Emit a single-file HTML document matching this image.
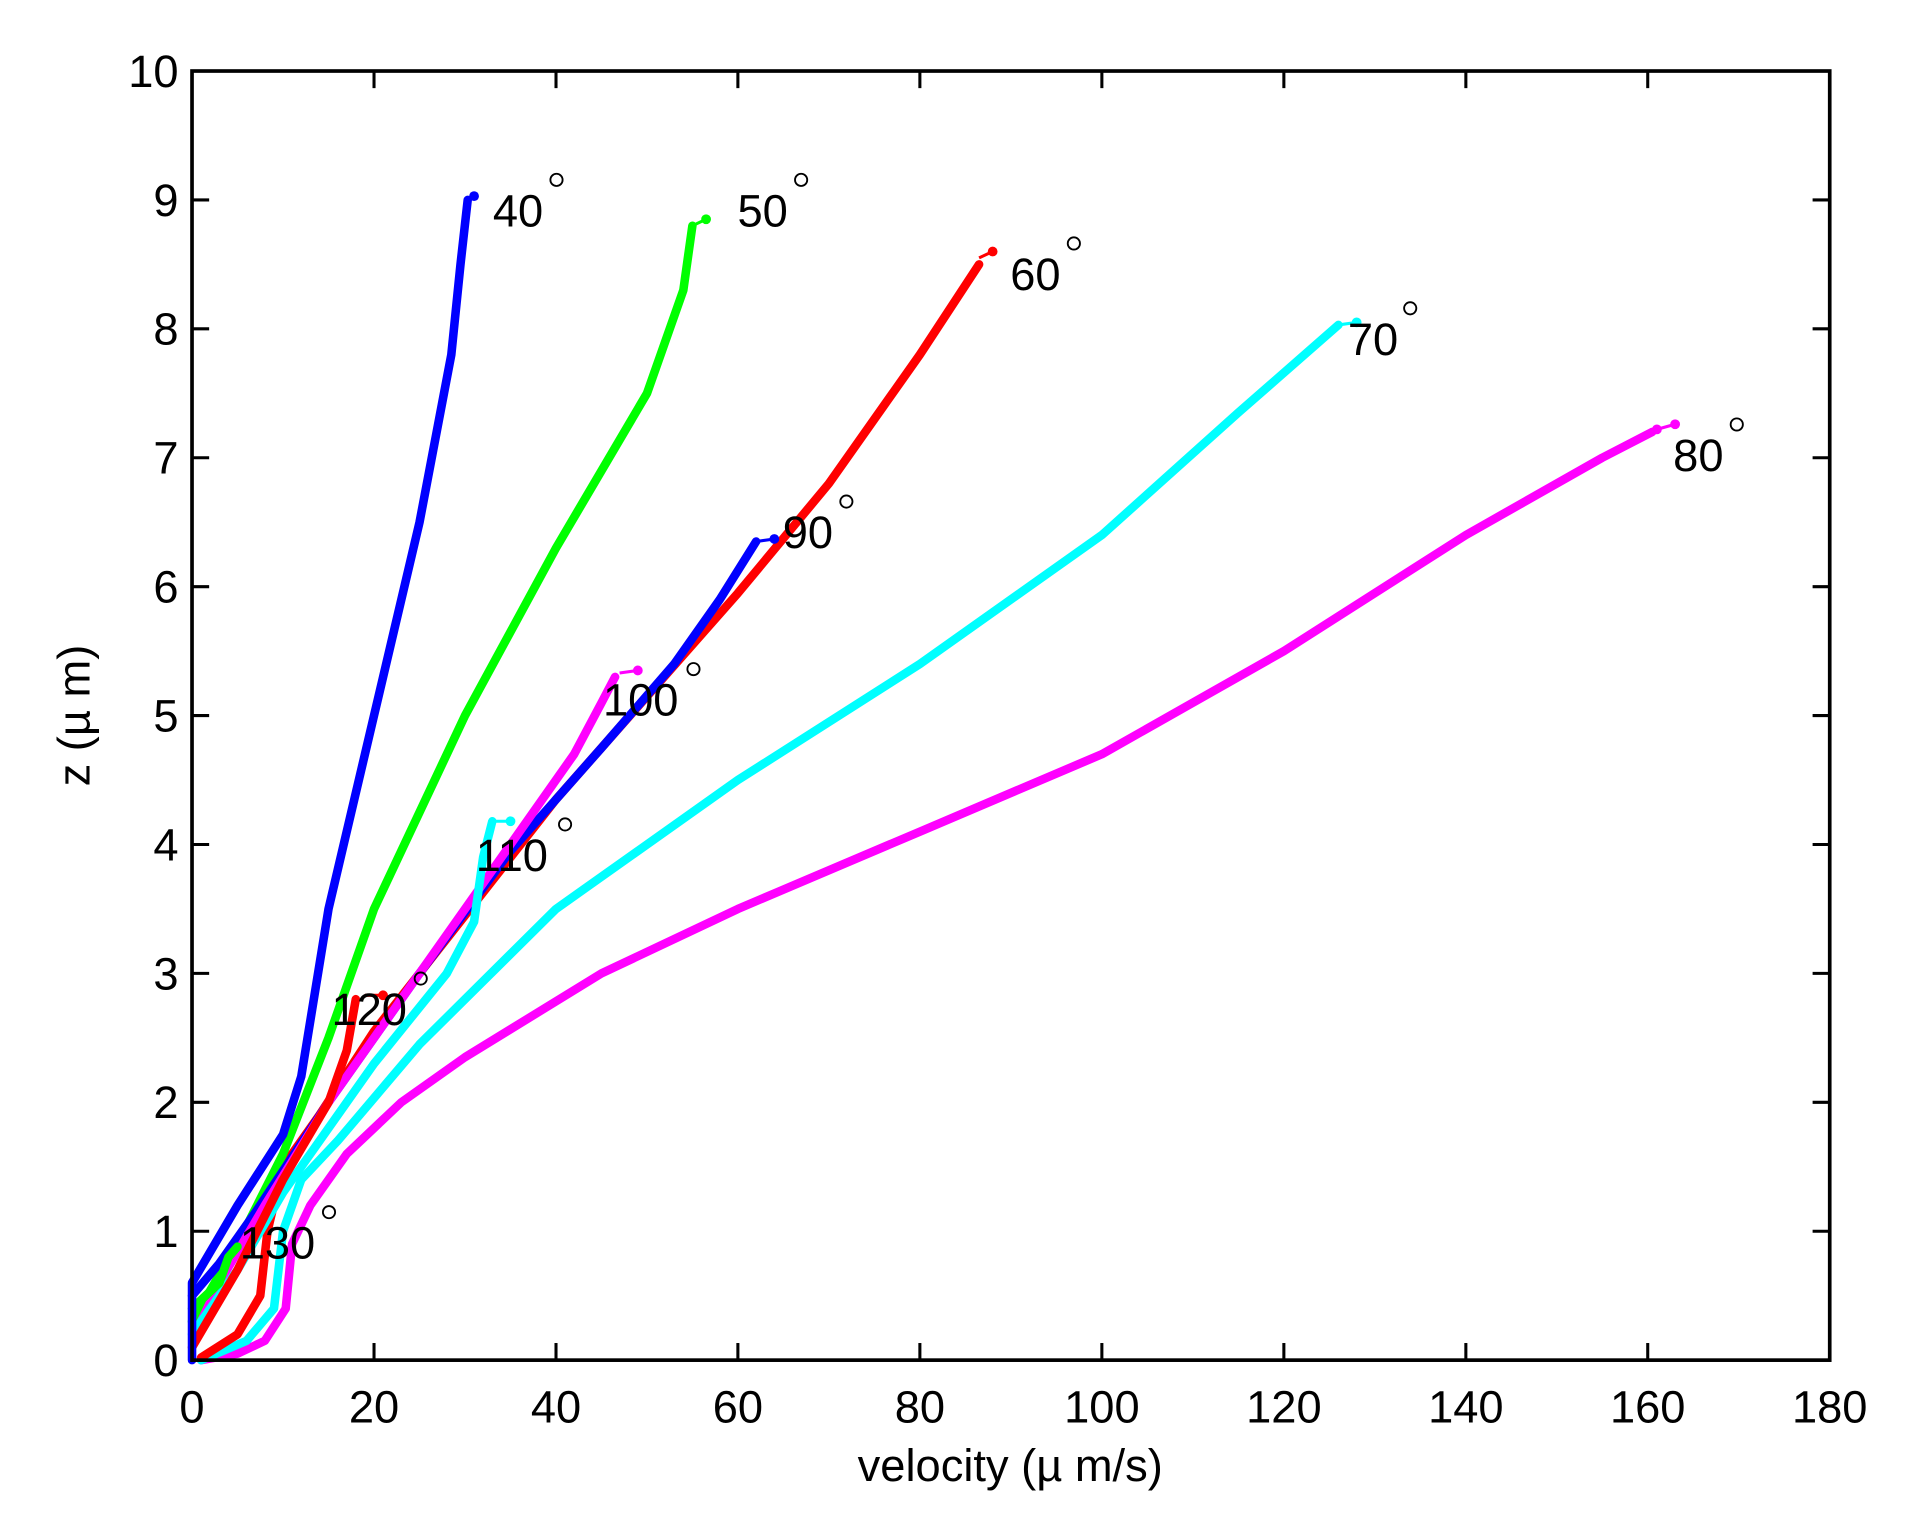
<!DOCTYPE html>
<html><head><meta charset="utf-8"><style>html,body{margin:0;padding:0;background:#fff}svg{display:block}</style></head>
<body>
<svg width="1908" height="1529" viewBox="0 0 1560 1250" xmlns="http://www.w3.org/2000/svg" font-family="Liberation Sans, sans-serif">
<rect width="1560" height="1250" fill="#fff"/>
<g fill="none" stroke-width="7" stroke-linecap="round" stroke-linejoin="round">
<polyline stroke="#ff00ff" points="164.4,1112 194.2,1106.7 216.5,1096.2 233.6,1069.8 238.8,1017.1 253.7,985.5 283.5,943.4 328.1,901.2 380.2,864.3 491.8,795.8 603.3,743.1 752.1,679.9 900.9,616.6 1049.7,532.3 1198.5,437.4 1310,374.2 1350.9,353.1"/>
<polyline stroke="#00ffff" points="164.4,1112 201.6,1096.2 224,1069.8 231.4,1006.6 246.3,964.4 276,932.8 343,853.8 454.6,743.1 603.3,637.7 752.1,542.8 900.9,437.4 1012.5,337.3 1094.3,265.6"/>
<polyline stroke="#ff0000" points="164.4,1109.9 194.2,1090.9 212.8,1059.3 218.7,1006.6 231.4,953.9 261.1,911.7 305.8,843.2 380.2,748.4 454.6,653.5 529,569.2 603.3,484.9 677.7,395.3 752.1,289.9 800.5,216.1"/>
<polyline stroke="#00ff00" points="157,1080.4 194.2,1017.1 231.4,943.4 268.6,848.5 305.8,743.1 380.2,585 454.6,448 529,321.5 558.7,237.2 566.1,184.5"/>
<polyline stroke="#0000ff" points="157,1059.3 179.3,1033 209.1,990.8 268.6,901.2 343,795.8 417.4,695.7 491.8,611.4 551.3,542.8 588.5,490.1 618.2,442.7"/>
<polyline stroke="#ff00ff" points="164.4,1080.4 179.3,1048.8 216.5,985.5 268.6,901.2 343,795.8 417.4,690.4 469.4,616.6 491.8,574.5 502.9,553.4"/>
<polyline stroke="#00ffff" points="157,1090.9 194.2,1038.2 231.4,975 305.8,869.6 365.3,795.8 387.6,753.6 395,700.9 402.5,671.4"/>
<polyline stroke="#ff0000" points="157,1101.5 194.2,1038.2 231.4,964.4 268.6,901.2 283.5,859 290.9,816.9"/>
<polyline stroke="#00ff00" points="157,1069.8 179.3,1048.8 186.8,1027.7 194.2,1019.2"/>
<polyline stroke="#0000ff" points="157,1112 157,1048.8 194.2,985.5 231.4,927.6 246.3,880.1 268.6,743.1 305.8,585 343,427 369,289.9 376.5,216.1 382.4,163.4"/>
</g>
<g stroke-width="2.5">
<line x1="1354.7" y1="351" x2="1369.6" y2="346.8" stroke="#ff00ff"/>
<line x1="1094.3" y1="265.6" x2="1109.2" y2="263.5" stroke="#00ffff"/>
<line x1="800.5" y1="210.8" x2="811.6" y2="205.6" stroke="#ff0000"/>
<line x1="566.1" y1="184.5" x2="577.3" y2="179.2" stroke="#00ff00"/>
<line x1="618.2" y1="442.7" x2="633.1" y2="440.6" stroke="#0000ff"/>
<line x1="506.6" y1="550.2" x2="521.5" y2="548.1" stroke="#ff00ff"/>
<line x1="402.5" y1="671.4" x2="417.4" y2="671.4" stroke="#00ffff"/>
<line x1="298.3" y1="813.7" x2="313.2" y2="813.7" stroke="#ff0000"/>
<line x1="382.4" y1="163.4" x2="387.6" y2="160.3" stroke="#0000ff"/>
</g>
<g>
<circle cx="1369.6" cy="346.8" r="4" fill="#ff00ff"/><circle cx="1354.7" cy="351" r="4" fill="#ff00ff"/>
<circle cx="1109.2" cy="263.5" r="4" fill="#00ffff"/>
<circle cx="811.6" cy="205.6" r="4" fill="#ff0000"/>
<circle cx="577.3" cy="179.2" r="4" fill="#00ff00"/>
<circle cx="633.1" cy="440.6" r="4" fill="#0000ff"/>
<circle cx="521.5" cy="548.1" r="4" fill="#ff00ff"/>
<circle cx="417.4" cy="671.4" r="4" fill="#00ffff"/>
<circle cx="313.2" cy="813.7" r="4" fill="#ff0000"/>
<circle cx="387.6" cy="160.3" r="4" fill="#0000ff"/>
</g>
<rect x="157" y="58" width="1339" height="1054" fill="none" stroke="#000" stroke-width="3"/>
<g stroke="#000" stroke-width="2.5">
<line x1="305.8" y1="1112" x2="305.8" y2="1098"/><line x1="454.6" y1="1112" x2="454.6" y2="1098"/><line x1="603.3" y1="1112" x2="603.3" y2="1098"/><line x1="752.1" y1="1112" x2="752.1" y2="1098"/><line x1="900.9" y1="1112" x2="900.9" y2="1098"/><line x1="1049.7" y1="1112" x2="1049.7" y2="1098"/><line x1="1198.5" y1="1112" x2="1198.5" y2="1098"/><line x1="1347.2" y1="1112" x2="1347.2" y2="1098"/>
<line x1="305.8" y1="58" x2="305.8" y2="72"/><line x1="454.6" y1="58" x2="454.6" y2="72"/><line x1="603.3" y1="58" x2="603.3" y2="72"/><line x1="752.1" y1="58" x2="752.1" y2="72"/><line x1="900.9" y1="58" x2="900.9" y2="72"/><line x1="1049.7" y1="58" x2="1049.7" y2="72"/><line x1="1198.5" y1="58" x2="1198.5" y2="72"/><line x1="1347.2" y1="58" x2="1347.2" y2="72"/>
<line x1="157" y1="1006.6" x2="171" y2="1006.6"/><line x1="157" y1="901.2" x2="171" y2="901.2"/><line x1="157" y1="795.8" x2="171" y2="795.8"/><line x1="157" y1="690.4" x2="171" y2="690.4"/><line x1="157" y1="585" x2="171" y2="585"/><line x1="157" y1="479.6" x2="171" y2="479.6"/><line x1="157" y1="374.2" x2="171" y2="374.2"/><line x1="157" y1="268.8" x2="171" y2="268.8"/><line x1="157" y1="163.4" x2="171" y2="163.4"/>
<line x1="1496" y1="1006.6" x2="1482" y2="1006.6"/><line x1="1496" y1="901.2" x2="1482" y2="901.2"/><line x1="1496" y1="795.8" x2="1482" y2="795.8"/><line x1="1496" y1="690.4" x2="1482" y2="690.4"/><line x1="1496" y1="585" x2="1482" y2="585"/><line x1="1496" y1="479.6" x2="1482" y2="479.6"/><line x1="1496" y1="374.2" x2="1482" y2="374.2"/><line x1="1496" y1="268.8" x2="1482" y2="268.8"/><line x1="1496" y1="163.4" x2="1482" y2="163.4"/>
</g>
<g font-size="37" fill="#000" text-anchor="middle">
<text x="157" y="1163">0</text><text x="305.8" y="1163">20</text><text x="454.6" y="1163">40</text><text x="603.3" y="1163">60</text><text x="752.1" y="1163">80</text><text x="900.9" y="1163">100</text><text x="1049.7" y="1163">120</text><text x="1198.5" y="1163">140</text><text x="1347.2" y="1163">160</text><text x="1496" y="1163">180</text>
</g>
<g font-size="37" fill="#000" text-anchor="end">
<text x="146" y="1125">0</text><text x="146" y="1019.6">1</text><text x="146" y="914.2">2</text><text x="146" y="808.8">3</text><text x="146" y="703.4">4</text><text x="146" y="598">5</text><text x="146" y="492.6">6</text><text x="146" y="387.2">7</text><text x="146" y="281.8">8</text><text x="146" y="176.4">9</text><text x="146" y="71">10</text>
</g>
<text x="826" y="1211" font-size="37" text-anchor="middle">velocity (µ m/s)</text>
<text transform="translate(73,585) rotate(-90)" font-size="37" text-anchor="middle">z (µ m)</text>
<g font-size="37" fill="#000">
<text x="403" y="185">40</text><circle cx="455" cy="147" r="5" fill="none" stroke="#000" stroke-width="1.5"/>
<text x="603" y="185">50</text><circle cx="655" cy="147" r="5" fill="none" stroke="#000" stroke-width="1.5"/>
<text x="826" y="237">60</text><circle cx="878" cy="199" r="5" fill="none" stroke="#000" stroke-width="1.5"/>
<text x="1102" y="290">70</text><circle cx="1153" cy="252" r="5" fill="none" stroke="#000" stroke-width="1.5"/>
<text x="1368" y="385">80</text><circle cx="1420" cy="347" r="5" fill="none" stroke="#000" stroke-width="1.5"/>
<text x="640" y="448">90</text><circle cx="692" cy="410" r="5" fill="none" stroke="#000" stroke-width="1.5"/>
<text x="493" y="585">100</text><circle cx="567" cy="547" r="5" fill="none" stroke="#000" stroke-width="1.5"/>
<text x="389" y="712">110</text><circle cx="462" cy="674" r="5" fill="none" stroke="#000" stroke-width="1.5"/>
<text x="271" y="838">120</text><circle cx="344" cy="800" r="5" fill="none" stroke="#000" stroke-width="1.5"/>
<text x="196" y="1029">130</text><circle cx="269" cy="991" r="5" fill="none" stroke="#000" stroke-width="1.5"/>
</g>
</svg>
</body></html>
